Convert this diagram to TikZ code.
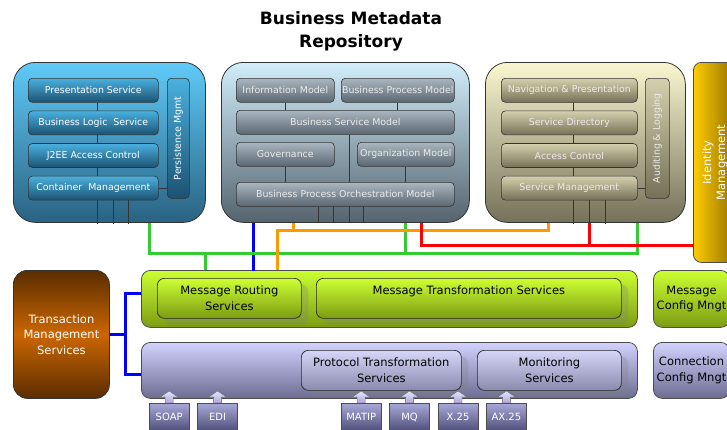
\documentclass[tikz,border=0pt]{standalone}
\usepackage{fontspec}
\setmainfont{DejaVu Sans}
\usetikzlibrary{positioning, shadows, calc}

\definecolor{jeeTop}{HTML}{60CAF8}
\definecolor{jeeBot}{HTML}{2A6282}
\definecolor{jeeItemTop}{HTML}{4AB0DE}
\definecolor{jeeItemBot}{HTML}{1C5272}
\definecolor{metaTop}{HTML}{D2EEFB}
\definecolor{metaBot}{HTML}{55636E}
\definecolor{metaItemTop}{HTML}{AAB6C0}
\definecolor{metaItemBot}{HTML}{5A6873}
\definecolor{svcTop}{HTML}{FAF7D0}
\definecolor{svcBot}{HTML}{75715A}
\definecolor{svcItemTop}{HTML}{D4D0AE}
\definecolor{svcItemBot}{HTML}{757157}
\definecolor{idmLeft}{HTML}{FFCC00}
\definecolor{idmRight}{HTML}{8A6A00}
\definecolor{routeTop}{HTML}{CCFF33}
\definecolor{routeBot}{HTML}{7C9C12}
\definecolor{protoTop}{HTML}{D2D2FF}
\definecolor{protoBot}{HTML}{6C6C92}
\definecolor{protoItemTop}{HTML}{D6D6F8}
\definecolor{protoItemBot}{HTML}{8A8AAE}
\definecolor{txnDark}{HTML}{5A2D00}
\definecolor{txnMid}{HTML}{CC6600}
\definecolor{portTop}{HTML}{A8A8D8}
\definecolor{portBot}{HTML}{4E4E78}
\definecolor{arrowTop}{HTML}{E4E4FF}
\definecolor{linkGreen}{HTML}{33CC33}
\definecolor{linkBlue}{HTML}{0000FF}
\definecolor{linkOrange}{HTML}{FF9900}
\definecolor{linkRed}{HTML}{FF0000}

\tikzset{
  outerbox/.style={draw=black!80, line width=0.8pt, rounded corners=22pt, minimum height=160pt, inner sep=0pt, anchor=north west},
  jeebox/.style={outerbox, top color=jeeTop, bottom color=jeeBot, minimum width=192pt},
  metabox/.style={outerbox, top color=metaTop, bottom color=metaBot, minimum width=248pt},
  svcbox/.style={outerbox, top color=svcTop, bottom color=svcBot, minimum width=200pt},
  item/.style={draw=black!80, line width=0.6pt, rounded corners=4pt, minimum height=24pt, inner sep=0pt, text=white, font=\fontsize{9.4}{10}\selectfont, anchor=north west},
  jeeitem/.style={item, top color=jeeItemTop, bottom color=jeeItemBot, minimum width=130pt},
  metaitem/.style={item, top color=metaItemTop, bottom color=metaItemBot, text=white!92!black},
  svcitem/.style={item, top color=svcItemTop, bottom color=svcItemBot, text=white!92!black, minimum width=136pt},
  idmbox/.style={draw=black!70, line width=0.8pt, rounded corners=8pt, left color=idmLeft, right color=idmRight, minimum width=44pt, minimum height=200pt, text=white, font=\fontsize{11.5}{14}\selectfont, anchor=north west},
  band/.style={draw=black!70, line width=0.8pt, rounded corners=9pt, minimum width=496pt, inner sep=0pt, anchor=north west},
  routeband/.style={band, top color=routeTop, bottom color=routeBot, minimum height=57pt},
  protoband/.style={band, top color=protoTop, bottom color=protoBot, minimum height=56pt},
  bandtext/.style={align=center, font=\fontsize{11.5}{15.5}\selectfont, anchor=north west},
  routeitem/.style={bandtext, draw=black!85, line width=0.7pt, rounded corners=7pt, top color=routeTop, bottom color=routeBot, minimum height=40pt, inner sep=0pt, drop shadow={shadow xshift=7pt, shadow yshift=-6pt, opacity=0.28}},
  protoitem/.style={bandtext, draw=black!85, line width=0.7pt, rounded corners=7pt, top color=protoItemTop, bottom color=protoItemBot, minimum height=40pt, inner sep=0pt, drop shadow={shadow xshift=7pt, shadow yshift=-6pt, opacity=0.28}},
  cfgbox/.style={bandtext, draw=black!70, line width=0.8pt, rounded corners=9pt, minimum width=76pt},
  txnbox/.style={bandtext, draw=black!80, line width=0.8pt, rounded corners=14pt, top color=txnDark, bottom color=txnDark, middle color=txnMid, minimum width=96pt, minimum height=128pt, text=white},
  portbox/.style={draw=black!70, top color=portTop, bottom color=portBot, minimum width=40pt, minimum height=28pt, inner sep=0pt, text=white, font=\fontsize{10}{10}\selectfont, anchor=north west,
    append after command={
      \pgfextra{
        \draw[draw=black!60, top color=arrowTop, bottom color=portTop] (\tikzlastnode.north) ++(-4,0) -- ++(0,-6) -- ++(-5,0) -- ++(9,-6) -- ++(9,6) -- ++(-5,0) -- ++(0,6) -- cycle; % arrow into the band
      }
    }
  },
  wire/.style={draw=black!80, line width=0.7pt},
  link/.style={line width=3pt}
}

\begin{document}
\begin{tikzpicture}[x=1pt, y=-1pt, node distance=8pt]
\useasboundingbox (0,0) rectangle (727,429);
\fill[white] (0,0) rectangle (727,429);

% Title
\node[font=\bfseries\fontsize{17}{23}\selectfont, align=center] (title) at (351,31) {Business Metadata\\Repository};

% J2EE container
\node[jeebox] (jee) at (13,62) {};
\node[jeeitem] (pres) at (28,78) {Presentation Service};
\node[jeeitem, below=of pres] (logic) {Business Logic\ \ Service};
\node[jeeitem, below=of logic] (jaccess) {J2EE Access Control};
\node[jeeitem, below=of jaccess] (cont) {Container\ \ Management};
\node[jeeitem, minimum width=22pt, minimum height=120pt] (persist) at (167,78) {\rotatebox{90}{Persistence Mgmt}};

\foreach \a/\b in {pres/logic, logic/jaccess, jaccess/cont}
  \draw[wire] ([xshift=4pt]\a.south) -- ([xshift=4pt]\b.north);
\draw[wire] (cont.east) -- (cont.east -| persist.west);
\foreach \dx in {4,20,35}
  \draw[wire] ([xshift=\dx pt]cont.south) -- ++(0,24);

% Metadata container
\node[metabox] (meta) at (221,62) {};
\node[metaitem, minimum width=98pt] (info) at (236,78) {Information Model};
\node[metaitem, minimum width=113pt] (bpm) at (341,78) {Business Process Model};
\node[metaitem, minimum width=218pt] (bsm) at (236,110) {Business Service Model};
\node[metaitem, minimum width=98pt] (gov) at (236,142) {Governance};
\node[metaitem, minimum width=97pt] (org) at (357,142) {Organization Model};
\node[metaitem, minimum width=218pt] (bpo) at (236,182) {Business Process Orchestration Model};

\draw[wire] (info.south) -- (info.south |- bsm.north);
\draw[wire] (bpm.south) -- (bpm.south |- bsm.north);
\draw[wire] ([xshift=4pt]bsm.south) -- ([xshift=4pt]bpo.north);
\draw[wire] (gov.south) -- (gov.south |- bpo.north);
\draw[wire] (org.south) -- (org.south |- bpo.north);
\foreach \dx in {-27,-12,4,18}
  \draw[wire] ([xshift=\dx pt]bpo.south) -- ++(0,16);

% Services container
\node[svcbox] (svc) at (485,62) {};
\node[svcitem] (nav) at (501,78) {Navigation \& Presentation};
\node[svcitem, below=of nav] (dir) {Service Directory};
\node[svcitem, below=of dir] (acc) {Access Control};
\node[svcitem, below=of acc] (smgmt) {Service Management};
\node[svcitem, minimum width=24pt, minimum height=120pt] (audit) at (645,78) {\rotatebox{90}{Auditing \& Logging}};

\foreach \a/\b in {nav/dir, dir/acc, acc/smgmt}
  \draw[wire] ([xshift=4pt]\a.south) -- ([xshift=4pt]\b.north);
\draw[wire] (smgmt.east) -- (smgmt.east -| audit.west);
\foreach \dx in {4,20,36}
  \draw[wire] ([xshift=\dx pt]smgmt.south) -- ++(0,24);

\node[idmbox] (idm) at (693,62) {\rotatebox{90}{\begin{tabular}{@{}c@{}}Identity\\Management\end{tabular}}};

% Bus layers
\node[routeband] (route) at (141,270) {};
\node[routeitem, minimum width=144pt] (msgroute) at (157,278) {Message Routing\\Services};
\node[routeitem, minimum width=305pt] (msgtrans) at (316,278) {Message Transformation Services\\~};
\node[cfgbox, top color=routeTop, bottom color=routeBot, minimum height=57pt] (msgcfg) at (653,270) {Message\\Config Mngt};

\node[protoband] (proto) at (141,342) {};
\node[protoitem, minimum width=160pt] (prottrans) at (301,350) {Protocol Transformation\\Services};
\node[protoitem, minimum width=144pt] (monitor) at (477,350) {Monitoring\\Services};
\node[cfgbox, top color=protoTop, bottom color=protoBot, minimum height=56pt] (conncfg) at (653,342) {Connection\\Config Mngt};

\node[txnbox] (txn) at (13,270) {Transaction\\Management\\Services};

% Protocols
\node[portbox] (soap) at (149,403) {SOAP};
\node[portbox, right=of soap] (edi) {EDI};
\node[portbox] (matip) at (341,403) {MATIP};
\node[portbox, right=of matip] (mq) {MQ};
\node[portbox, right=of mq] (xtf) {X.25};
\node[portbox, right=of xtf] (axtf) {AX.25};

% Links
\coordinate (fork) at ($(txn.east)+(16,0)$);
\draw[link, linkBlue] (txn.east) -- (fork);
\draw[link, linkBlue] ([yshift=5pt]route.west) -| (fork) |- ([yshift=-4pt]proto.west);

\draw[link, linkBlue] ([xshift=-92pt]meta.south) -- ++(0,48);
\draw[link, linkGreen] ([xshift=40pt]jee.south) -- ++(0,31) -| ([xshift=52pt]svc.south);
\draw[link, linkGreen] ([xshift=60pt]meta.south) -- ++(0,31);
\draw[link, linkGreen] ([xshift=-184pt]route.north) -- ++(0,-17);
\draw[link, linkOrange] ([xshift=-37pt]svc.south) -- ++(0,8) -| ([xshift=-112pt]route.north);
\draw[link, linkOrange] ([xshift=-52pt]meta.south) -- ++(0,8);
\draw[link, linkRed] ([xshift=76pt]meta.south) -- ++(0,23) coordinate (redbus) -- (redbus -| idm.west);
\draw[link, linkRed] ([xshift=4pt]svc.south) -- ++(0,23);
\end{tikzpicture}
\end{document}
